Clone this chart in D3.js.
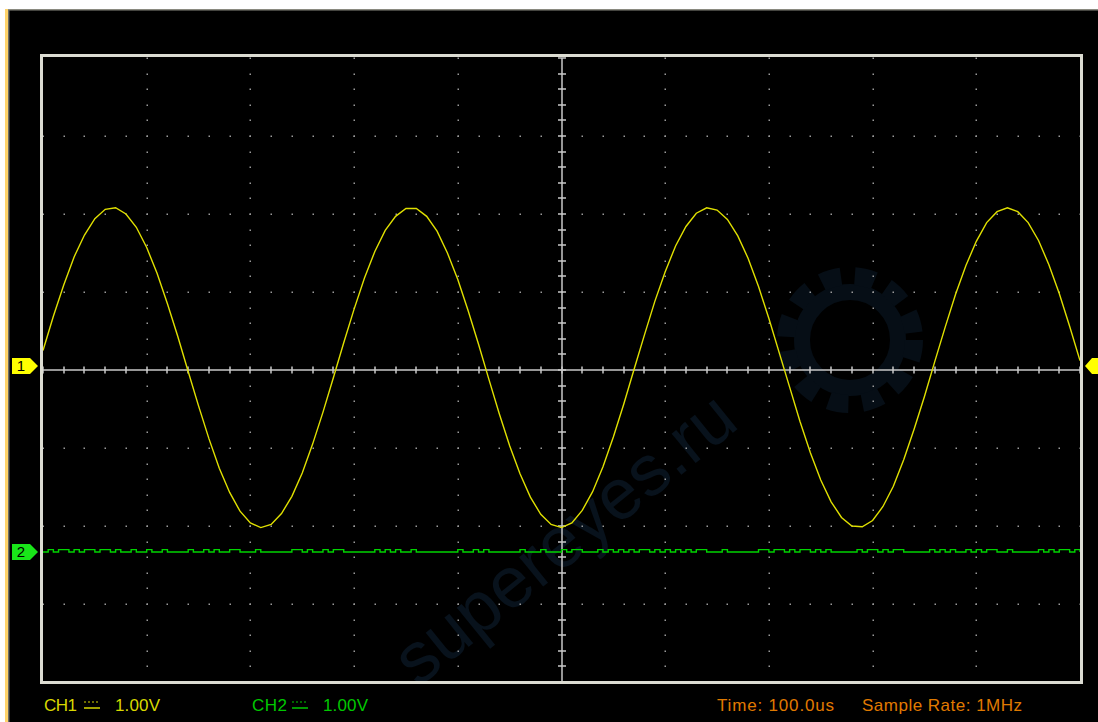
<!DOCTYPE html>
<html><head><meta charset="utf-8">
<script src="https://cdn.jsdelivr.net/npm/d3@7"></script>
<style>html,body{margin:0;padding:0;background:#000;overflow:hidden}svg{display:block}</style>
</head><body>
<script>
// ---- data ----
const timeDomainUs = [0, 1000];        // 10 div x 100.0us
const voltDomain = [-4, 4];            // 8 div x 1.00V
const ch1StepUs = 10;
const ch1Volts = [0.25,0.69,1.09,1.45,1.73,1.94,2.06,2.08,2.00,1.83,
  1.57,1.24,0.85,0.43,-0.02,-0.46,-0.88,-1.26,-1.57,-1.81,
  -1.96,-2.02,-1.98,-1.84,-1.62,-1.32,-0.95,-0.54,-0.10,0.35,
  0.78,1.18,1.52,1.79,1.97,2.07,2.07,1.97,1.78,1.50,
  1.16,0.76,0.33,-0.12,-0.56,-0.97,-1.33,-1.63,-1.85,-1.98,
  -2.02,-1.96,-1.80,-1.56,-1.24,-0.86,-0.44,0.01,0.45,0.88,
  1.26,1.59,1.84,2.01,2.08,2.05,1.93,1.72,1.43,1.07,
  0.66,0.22,-0.22,-0.66,-1.06,-1.41,-1.69,-1.89,-2.00,-2.01,
  -1.93,-1.75,-1.49,-1.15,-0.76,-0.34,0.11,0.55,0.97,1.34,
  1.65,1.89,2.03,2.08,2.03,1.89,1.66,1.35,0.98,0.56,0.12];
const ch2StepUs = 5;
const ch2OffsetDiv = -2.32;
const ch2Volts = [0,0.03,0,0.03,0.03,0,0.03,0,0.03,0.03,
  0,0.03,0.03,0,0.03,0,0,0.03,0,0,
  0.03,0,0,0.03,0,0,0,0,0.03,0,
  0,0.03,0,0.03,0,0,0.03,0.03,0,0,
  0,0.03,0,0,0,0,0,0,0.03,0.03,
  0,0.03,0,0,0.03,0,0.03,0.03,0,0,
  0,0,0,0,0.03,0,0.03,0,0.03,0,
  0,0.03,0,0,0,0,0,0,0,0,
  0.03,0,0,0.03,0,0.03,0,0,0,0,
  0,0,0.03,0,0,0,0.03,0,0,0,
  0.03,0,0.03,0.03,0,0,0,0.03,0,0.03,
  0,0.03,0,0.03,0,0.03,0.03,0,0.03,0,
  0.03,0,0.03,0,0.03,0,0.03,0.03,0,0,
  0,0.03,0,0,0,0,0,0,0.03,0.03,
  0,0.03,0.03,0,0.03,0,0.03,0.03,0,0.03,
  0,0.03,0,0,0,0,0,0.03,0,0.03,
  0.03,0,0.03,0,0.03,0.03,0,0,0,0,
  0,0.03,0,0.03,0,0.03,0,0,0.03,0,
  0.03,0,0.03,0.03,0,0,0.03,0,0,0,
  0,0,0.03,0,0.03,0,0.03,0.03,0,0.03,0];
const ch1Label = ["CH1", "1.00V"];
const ch2Label = ["CH2", "1.00V"];
const timeLabel = "Time: 100.0us";
const rateLabel = "Sample Rate: 1MHz";

// ---- layout ----
const W = 1098, H = 722;
const L = 43, R = 1080, T = 58, B = 682;
const svg = d3.select("body").append("svg").attr("width", W).attr("height", H);

svg.append("rect").attr("width", W).attr("height", H).attr("fill", "#000");
// window edges
svg.append("rect").attr("x",0).attr("y",0).attr("width",W).attr("height",9).attr("fill","#fff");
svg.append("rect").attr("x",0).attr("y",9).attr("width",W).attr("height",1.5).attr("fill","#8a8a80");
svg.append("rect").attr("x",0).attr("y",9).attr("width",5).attr("height",H).attr("fill","#fff");
svg.append("rect").attr("x",5).attr("y",9).attr("width",3).attr("height",H).attr("fill","#ffd36a");
svg.append("rect").attr("x",8).attr("y",10).attr("width",1.5).attr("height",H).attr("fill","#6e6e66");

const x = d3.scaleLinear().domain(timeDomainUs).range([L, R]);
const y = d3.scaleLinear().domain(voltDomain).range([B, T]);

// watermark (faint)
const wm = svg.append("g").attr("font-family", "Liberation Sans, Arial, sans-serif");
wm.append("text").attr("transform","translate(418,688) rotate(-39)")
  .attr("font-size",72).attr("fill","#08121c").text("supereyes.ru");
wm.append("circle").attr("cx",850).attr("cy",340).attr("r",48).attr("fill","none")
  .attr("stroke","#060e16").attr("stroke-width",16);
wm.append("circle").attr("cx",850).attr("cy",340).attr("r",64).attr("fill","none")
  .attr("stroke","#060e16").attr("stroke-width",18).attr("stroke-dasharray","20,14");

// grid dots
const grid = svg.append("g").attr("fill", "#9a9a9a");
const xMinor = d3.range(0, 51).map(i => timeDomainUs[0] + i * 20);
const yMinor = d3.range(0, 41).map(i => voltDomain[0] + i * 0.2);
const xMajor = d3.range(1, 10).map(i => i * 100);
const yMajor = d3.range(-3, 4).map(i => i);
yMajor.filter(v => v !== 0).forEach(v => {
  xMinor.forEach(t => grid.append("rect").attr("x", Math.round(x(t)) - 0.5).attr("y", Math.round(y(v)) - 0.5).attr("width", 1.5).attr("height", 1.5));
});
xMajor.filter(t => t !== 500).forEach(t => {
  yMinor.forEach(v => grid.append("rect").attr("x", Math.round(x(t)) - 0.5).attr("y", Math.round(y(v)) - 0.5).attr("width", 1.5).attr("height", 1.5));
});

// center axes with ticks
const ax = svg.append("g").attr("stroke", "#c8c8c8").attr("stroke-width", 1.5);
const cy = Math.round(y(0)), cx = Math.round(x(500));
ax.append("line").attr("x1", L).attr("x2", R).attr("y1", cy).attr("y2", cy);
ax.append("line").attr("x1", cx).attr("x2", cx).attr("y1", T).attr("y2", B);
xMinor.forEach(t => ax.append("line").attr("x1", Math.round(x(t))).attr("x2", Math.round(x(t))).attr("y1", cy - 3.5).attr("y2", cy + 3.5));
yMinor.forEach(v => ax.append("line").attr("x1", cx - 4).attr("x2", cx + 4).attr("y1", Math.round(y(v))).attr("y2", Math.round(y(v))));

// traces
const clip = svg.append("clipPath").attr("id","clip").append("rect").attr("x",L).attr("y",T).attr("width",R-L).attr("height",B-T);
const ch1Line = d3.line().x((d, i) => x(i * ch1StepUs)).y(d => y(d));
svg.append("path").attr("clip-path","url(#clip)").attr("d", ch1Line(ch1Volts))
  .attr("fill", "none").attr("stroke", "#e0e000").attr("stroke-width", 1.4);
const ch2Line = d3.line().curve(d3.curveStepAfter).x((d, i) => x(i * ch2StepUs)).y(d => y(d + ch2OffsetDiv) + 1);
svg.append("path").attr("clip-path","url(#clip)").attr("d", ch2Line(ch2Volts))
  .attr("fill", "none").attr("stroke", "#00d400").attr("stroke-width", 1.4);

// frame
svg.append("rect").attr("x", 41.5).attr("y", 55.5).attr("width", 1040).attr("height", 627)
  .attr("fill", "none").attr("stroke", "#dcdcd2").attr("stroke-width", 3);

// channel markers
function marker(cyM, fill, label, dir) {
  const g = svg.append("g");
  let pts;
  if (dir === "right") pts = [[12,cyM-8],[30,cyM-8],[38,cyM],[30,cyM+8],[12,cyM+8]];
  else pts = [[1098,cyM-8],[1092,cyM-8],[1085,cyM],[1092,cyM+8],[1098,cyM+8]];
  g.append("polygon").attr("points", pts.map(p => p.join(",")).join(" ")).attr("fill", fill);
  if (label) g.append("text").attr("x", 21).attr("y", cyM + 5).attr("text-anchor","middle")
    .attr("font-family","Liberation Sans, Arial, sans-serif").attr("font-size",15).attr("fill","#000").text(label);
}
marker(366, "#ffff00", "1", "right");
marker(Math.round(y(ch2OffsetDiv)) + 1, "#19e619", "2", "right");
marker(366, "#ffff00", null, "left");

// bottom texts
const ft = "Liberation Sans, Arial, sans-serif";
function dc(x0, color) {
  svg.append("line").attr("x1", x0).attr("x2", x0 + 16).attr("y1", 702).attr("y2", 702)
    .attr("stroke", color).attr("stroke-width", 1.2).attr("stroke-dasharray", "2,2");
  svg.append("line").attr("x1", x0).attr("x2", x0 + 16).attr("y1", 708).attr("y2", 708)
    .attr("stroke", color).attr("stroke-width", 1.5);
}
function txt(x0, s, color, len) {
  const t = svg.append("text").attr("x", x0).attr("y", 711).attr("font-family", ft).attr("font-size", 17).attr("fill", color).text(s);
  if (len) t.attr("textLength", len).attr("lengthAdjust", "spacing");
}
txt(44, ch1Label[0], "#d8d800", 33); dc(84, "#d8d800"); txt(115, ch1Label[1], "#d8d800", 45);
txt(252, ch2Label[0], "#00c800", 35); dc(292, "#00c800"); txt(323, ch2Label[1], "#00c800", 45);
txt(717, timeLabel, "#e07a00", 117);
txt(862, rateLabel, "#e07a00", 160);
</script>
</body></html>
